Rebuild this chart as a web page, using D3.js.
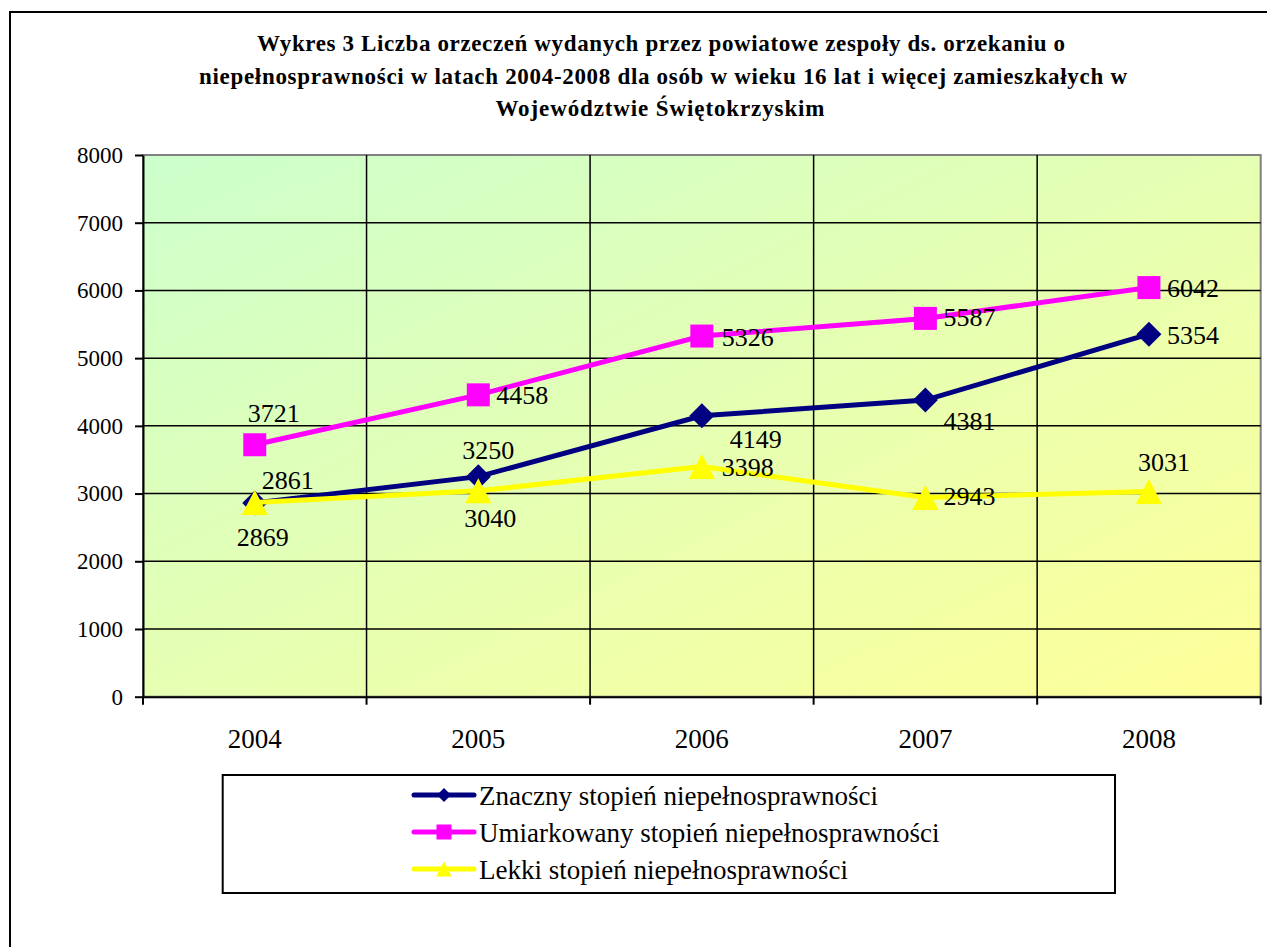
<!DOCTYPE html>
<meta charset="utf-8">
<html>
<style>
body { margin: 0; background: #fff; }
text { font-family: "Liberation Serif", "Times New Roman", serif; fill: #000; }
.title { font-weight: bold; font-size: 23px; }
</style>
<body>
<script src="https://cdn.jsdelivr.net/npm/d3@7"></script>
<script type="text/javascript">

// data
var years = ["2004", "2005", "2006", "2007", "2008"];
var znaczny = [2861, 3250, 4149, 4381, 5354];
var umiarkowany = [3721, 4458, 5326, 5587, 6042];
var lekki = [2869, 3040, 3398, 2943, 3031];
var seriesNames = ["Znaczny stopień niepełnosprawności",
                   "Umiarkowany stopień niepełnosprawności",
                   "Lekki stopień niepełnosprawności"];
var yTicks = [0, 1000, 2000, 3000, 4000, 5000, 6000, 7000, 8000];
var titleLines = ["Wykres 3 Liczba orzeczeń wydanych przez powiatowe zespoły ds. orzekaniu o",
                  "niepełnosprawności w latach 2004-2008 dla osób w wieku 16 lat i więcej zamieszkałych w",
                  "Województwie Świętokrzyskim"];

// title line widths / centres as measured (style)
var titleWidth = [808, 928, 329];
var titleCenter = [661, 663, 660];

// label placement (style only) - [dx, dy, anchor] of label relative to point
var labelShift = [
  [[33, -14, "middle"], [10, -18, "middle"], [54, 32, "middle"], [44, 30, "middle"], [18, 10, "start"]],
  [[19, -23, "middle"], [18, 9, "start"], [20, 10, "start"], [18, 8, "start"], [18, 9, "start"]],
  [[8, 44, "middle"], [12, 36, "middle"], [20, 9, "start"], [18, 8, "start"], [15, -20, "middle"]]
];

var colors = ["#000080", "#ff00ff", "#ffff00"];
var shapes = ["diamond", "square", "triangle"];
var serif = "'Liberation Serif', 'Times New Roman', serif";

var W = 1267, H = 947;
var plot = {left: 143, top: 155, right: 1260.7, bottom: 696.7};

var svg = d3.select("body").append("svg")
    .attr("width", W).attr("height", H);

var defs = svg.append("defs");
var grad = defs.append("linearGradient").attr("id", "bg")
    .attr("x1", 0).attr("y1", 0).attr("x2", 1).attr("y2", 1);
grad.append("stop").attr("offset", "0%").attr("stop-color", "#ccffcc");
grad.append("stop").attr("offset", "100%").attr("stop-color", "#ffff99");

// outer frame
svg.append("rect").attr("x", 10).attr("y", 12)
    .attr("width", 1300).attr("height", 1000)
    .attr("fill", "#fff").attr("stroke", "#000").attr("stroke-width", 2);

// title
svg.selectAll(".title").data(titleLines).enter().append("text")
    .attr("class", "title")
    .attr("x", function(d, i) { return titleCenter[i]; })
    .attr("y", function(d, i) { return 51 + i * 32.5; })
    .attr("text-anchor", "middle")
    .attr("textLength", function(d, i) { return titleWidth[i]; })
    .attr("lengthAdjust", "spacing")
    .text(function(d) { return d; });

var x = d3.scaleBand().domain(years).range([plot.left, plot.right]).padding(0);
var y = d3.scaleLinear().domain([0, 8000]).range([plot.bottom, plot.top]);
var cx = function(i) { return x(years[i]) + x.bandwidth() / 2; };

// plot area
svg.append("rect")
    .attr("x", plot.left).attr("y", plot.top)
    .attr("width", plot.right - plot.left).attr("height", plot.bottom - plot.top)
    .attr("fill", "url(#bg)").attr("stroke", "#808080").attr("stroke-width", 2);

// horizontal grid
svg.append("g").selectAll("line").data(yTicks.slice(1, -1)).enter().append("line")
    .attr("x1", plot.left).attr("x2", plot.right)
    .attr("y1", function(d) { return y(d); }).attr("y2", function(d) { return y(d); })
    .attr("stroke", "#000").attr("stroke-width", 1.5);

// vertical grid at category boundaries
var bounds = years.map(function(d) { return x(d); }).concat([plot.right]);
svg.append("g").selectAll("line").data(bounds.slice(1, -1)).enter().append("line")
    .attr("x1", function(d) { return d; }).attr("x2", function(d) { return d; })
    .attr("y1", plot.top).attr("y2", plot.bottom)
    .attr("stroke", "#000").attr("stroke-width", 1.5);

// y axis
var yAxis = svg.append("g").attr("transform", "translate(" + plot.left + ",0)")
    .call(d3.axisLeft(y).tickValues(yTicks).tickFormat(d3.format("d"))
      .tickSize(8).tickSizeOuter(0).tickPadding(12));
yAxis.select(".domain").attr("stroke", "#000").attr("stroke-width", 2);
yAxis.selectAll(".tick line").attr("stroke", "#000").attr("stroke-width", 2);
yAxis.selectAll(".tick text").style("font-family", serif).style("font-size", "23px");

// x axis
var xAxis = svg.append("g").attr("transform", "translate(0," + plot.bottom + ")")
    .call(d3.axisBottom(x).tickSize(0).tickPadding(32));
xAxis.select(".domain").attr("stroke", "#000").attr("stroke-width", 2);
xAxis.selectAll(".tick text").style("font-family", serif).style("font-size", "27px");
svg.append("g").selectAll("line").data(bounds).enter().append("line")
    .attr("x1", function(d) { return d; }).attr("x2", function(d) { return d; })
    .attr("y1", plot.bottom).attr("y2", plot.bottom + 8)
    .attr("stroke", "#000").attr("stroke-width", 2);

function markerPath(shape, s) {
  if (shape === "diamond") return "M0," + (-s) + "L" + s + ",0L0," + s + "L" + (-s) + ",0Z";
  if (shape === "square") return "M" + (-s) + "," + (-s) + "H" + s + "V" + s + "H" + (-s) + "Z";
  return "M0," + (-s) + "L" + (s * 1.05) + "," + s + "L" + (-s * 1.05) + "," + s + "Z";
}

var allSeries = [znaczny, umiarkowany, lekki];
var line = d3.line().x(function(d, i) { return cx(i); }).y(function(d) { return y(d); });
var markerSize = [12.5, 11.5, 12.5];

allSeries.forEach(function(vals, k) {
  var g = svg.append("g");
  g.append("path").attr("d", line(vals))
      .attr("fill", "none").attr("stroke", colors[k]).attr("stroke-width", 5);
  g.selectAll("path.m").data(vals).enter().append("path").attr("class", "m")
      .attr("transform", function(d, i) { return "translate(" + cx(i) + "," + y(d) + ")"; })
      .attr("d", markerPath(shapes[k], markerSize[k]))
      .attr("fill", colors[k]);
});

// data labels
allSeries.forEach(function(vals, k) {
  svg.append("g").selectAll("text").data(vals).enter().append("text")
      .attr("x", function(d, i) { return cx(i) + labelShift[k][i][0]; })
      .attr("y", function(d, i) { return y(d) + labelShift[k][i][1]; })
      .attr("text-anchor", function(d, i) { return labelShift[k][i][2]; })
      .style("font-family", serif)
      .style("font-size", "26px")
      .text(function(d) { return d; });
});

// legend
var leg = svg.append("g");
leg.append("rect").attr("x", 222.7).attr("y", 775).attr("width", 892.3).attr("height", 118)
    .attr("fill", "#fff").attr("stroke", "#000").attr("stroke-width", 2);
var legSize = [7, 7.5, 7.5];
seriesNames.forEach(function(name, k) {
  var ly = 795 + k * 37;
  leg.append("line").attr("x1", 414).attr("x2", 474).attr("y1", ly).attr("y2", ly)
      .attr("stroke", colors[k]).attr("stroke-width", 5).attr("stroke-linecap", "round");
  leg.append("path").attr("transform", "translate(444," + ly + ")")
      .attr("d", markerPath(shapes[k], legSize[k])).attr("fill", colors[k]);
  leg.append("text").attr("x", 479).attr("y", ly + 10)
      .style("font-family", serif)
      .style("font-size", "27px").text(name);
});

</script>
</body>
</html>
